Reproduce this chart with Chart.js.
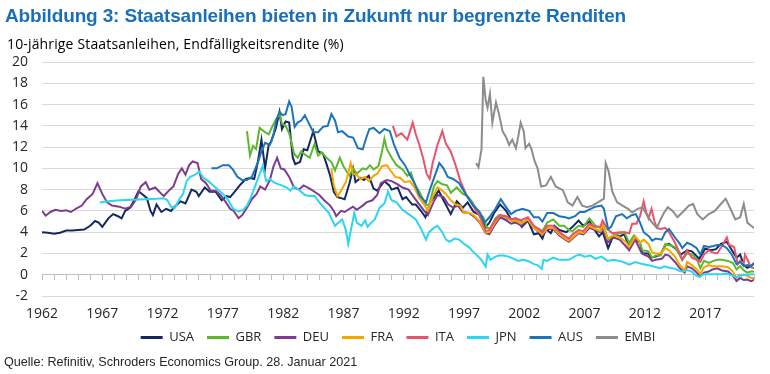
<!DOCTYPE html>
<html lang="de">
<head>
<meta charset="UTF-8">
<title>Staatsanleihen</title>
<script src="https://cdn.jsdelivr.net/npm/chart.js"></script>
<style>
    html, body { margin: 0; padding: 0; background: #fff; }
    .wrap { position: relative; width: 770px; height: 374px; overflow: hidden; }
    #chart { position: absolute; left: 0; top: 0; }
    .title {
        position: absolute; left: 5px; top: 5px; margin: 0;
        font: bold 19px "Liberation Sans", Arial, sans-serif; letter-spacing: -0.15px;
        line-height: 22px; color: #1a70b8; white-space: nowrap;
    }
    .subtitle {
        position: absolute; left: 7px; top: 35px;
        font: 14px "Open Sans", sans-serif; letter-spacing: 0.15px; line-height: 18px;
        color: #000; white-space: nowrap;
    }
    .source {
        position: absolute; left: 4px; top: 354px;
        font: 12.6px "Liberation Sans", Arial, sans-serif;
        line-height: 16px; color: #262626; white-space: nowrap;
    }
</style>
</head>
<body>
<div class="wrap">
    <canvas id="chart" width="770" height="374"></canvas>
    <div class="title">Abbildung 3: Staatsanleihen bieten in Zukunft nur begrenzte Renditen</div>
    <div class="subtitle">10-jährige Staatsanleihen, Endfälligkeitsrendite (%)</div>
    <div class="source">Quelle: Refinitiv, Schroders Economics Group. 28. Januar 2021</div>
</div>

<script>
// yields, [year, %]
const usa = [[1962.0,4.0],[1962.5,3.95],[1963.0,3.85],[1963.5,3.95],[1964.0,4.15],[1964.5,4.15],[1965.0,4.2],[1965.5,4.25],[1966.0,4.6],[1966.4,5.05],[1966.7,4.9],[1967.0,4.5],[1967.5,5.3],[1967.9,5.7],[1968.3,5.5],[1968.6,5.3],[1968.9,6.0],[1969.3,6.3],[1969.6,6.9],[1970.0,7.85],[1970.4,7.5],[1970.7,7.2],[1971.0,6.0],[1971.2,5.6],[1971.5,6.6],[1971.9,5.9],[1972.3,6.2],[1972.7,6.0],[1973.0,6.4],[1973.5,6.9],[1973.9,6.7],[1974.4,8.0],[1974.8,7.8],[1975.0,7.4],[1975.5,8.2],[1975.9,7.8],[1976.4,7.8],[1976.9,7.0],[1977.3,7.4],[1977.6,7.3],[1977.9,7.7],[1978.4,8.4],[1978.9,9.0],[1979.3,9.1],[1979.6,9.0],[1979.9,10.6],[1980.2,12.7],[1980.5,10.0],[1980.8,12.2],[1981.0,12.5],[1981.4,13.8],[1981.7,15.3],[1981.9,13.7],[1982.2,14.4],[1982.5,14.3],[1982.8,11.0],[1983.0,10.4],[1983.4,10.6],[1983.7,11.8],[1984.0,11.7],[1984.5,13.5],[1984.9,11.6],[1985.3,11.4],[1985.6,10.4],[1985.9,9.3],[1986.2,7.8],[1986.5,7.3],[1986.8,7.2],[1987.1,7.1],[1987.5,8.6],[1987.8,10.0],[1988.0,8.7],[1988.4,9.1],[1988.7,8.9],[1989.1,9.3],[1989.5,8.1],[1989.8,7.9],[1990.0,8.2],[1990.4,8.8],[1990.8,8.4],[1991.0,8.0],[1991.5,8.2],[1991.9,7.1],[1992.2,7.3],[1992.7,6.6],[1993.0,6.6],[1993.5,5.9],[1993.8,5.4],[1994.2,6.8],[1994.9,7.9],[1995.3,7.0],[1995.9,5.7],[1996.4,6.9],[1996.9,6.3],[1997.3,6.8],[1997.8,5.9],[1998.3,5.6],[1998.8,4.5],[1999.1,4.9],[1999.5,5.8],[2000.0,6.6],[2000.5,6.0],[2000.9,5.2],[2001.3,5.3],[2001.8,4.5],[2002.3,5.1],[2002.8,3.8],[2003.2,3.9],[2003.5,3.4],[2003.8,4.3],[2004.2,3.9],[2004.5,4.6],[2004.9,4.2],[2005.5,4.0],[2006.0,4.5],[2006.5,5.1],[2006.9,4.6],[2007.4,5.0],[2007.9,4.1],[2008.2,3.6],[2008.5,4.0],[2008.95,2.5],[2009.4,3.7],[2009.9,3.6],[2010.3,3.8],[2010.7,2.6],[2011.1,3.4],[2011.6,3.0],[2011.8,2.0],[2012.3,2.0],[2012.5,1.6],[2012.9,1.7],[2013.3,1.9],[2013.7,2.8],[2014.0,2.9],[2014.5,2.5],[2015.0,1.9],[2015.5,2.3],[2015.9,2.2],[2016.5,1.5],[2017.0,2.45],[2017.5,2.3],[2017.9,2.4],[2018.3,2.9],[2018.8,3.1],[2019.0,2.7],[2019.6,1.6],[2019.9,1.9],[2020.2,0.9],[2020.5,0.65],[2020.8,0.8],[2021.05,1.05]];
const gbr = [[1979.0,13.5],[1979.25,11.2],[1979.5,12.1],[1979.75,11.8],[1980.05,13.8],[1980.5,13.4],[1980.8,13.2],[1981.0,13.7],[1981.4,14.6],[1981.7,15.1],[1981.9,14.2],[1982.2,14.0],[1982.5,13.3],[1982.7,12.4],[1982.9,11.4],[1983.2,11.0],[1983.5,11.6],[1983.8,11.3],[1984.2,11.0],[1984.6,12.3],[1984.9,11.2],[1985.2,11.5],[1985.6,11.0],[1986.0,10.6],[1986.3,9.8],[1986.7,11.0],[1987.0,10.2],[1987.5,9.3],[1987.8,10.0],[1988.1,9.5],[1988.6,10.0],[1988.9,9.9],[1989.2,10.3],[1989.5,9.9],[1989.9,10.2],[1990.2,11.6],[1990.4,12.8],[1990.6,11.8],[1991.0,11.0],[1991.4,10.3],[1991.9,9.9],[1992.3,9.3],[1992.6,9.6],[1992.9,8.5],[1993.3,7.8],[1993.8,6.6],[1994.1,6.5],[1994.5,8.3],[1994.8,8.8],[1995.2,8.5],[1995.6,8.4],[1995.9,7.7],[1996.4,8.2],[1996.9,7.6],[1997.3,7.4],[1997.7,6.8],[1998.1,6.0],[1998.6,5.4],[1998.9,4.4],[1999.2,4.4],[1999.6,5.3],[1999.9,5.6],[2000.3,5.3],[2000.8,5.2],[2001.2,4.9],[2001.6,5.2],[2001.9,4.9],[2002.3,5.2],[2002.7,4.5],[2003.2,4.3],[2003.5,4.1],[2003.9,4.9],[2004.4,5.2],[2004.9,4.6],[2005.3,4.6],[2005.7,4.2],[2006.0,4.1],[2006.5,4.6],[2006.9,4.5],[2007.4,5.3],[2007.9,4.6],[2008.3,4.4],[2008.5,4.9],[2008.95,3.3],[2009.4,3.7],[2009.9,3.9],[2010.3,4.0],[2010.7,3.0],[2011.1,3.7],[2011.5,3.2],[2011.8,2.3],[2012.3,2.2],[2012.6,1.6],[2012.9,1.8],[2013.3,1.8],[2013.7,2.9],[2014.0,2.8],[2014.5,2.6],[2014.9,1.8],[2015.1,1.4],[2015.5,2.0],[2015.9,1.9],[2016.3,1.5],[2016.6,0.6],[2016.9,1.3],[2017.3,1.1],[2017.7,1.3],[2018.0,1.4],[2018.4,1.4],[2018.9,1.3],[2019.3,1.1],[2019.6,0.5],[2019.9,0.8],[2020.2,0.4],[2020.5,0.2],[2020.8,0.3],[2021.05,0.3]];
const deu = [[1962.0,6.0],[1962.3,5.55],[1962.7,5.9],[1963.1,6.1],[1963.6,6.0],[1964.0,6.05],[1964.4,5.9],[1964.8,6.2],[1965.3,6.5],[1965.7,7.1],[1966.2,7.6],[1966.6,8.6],[1967.0,7.6],[1967.4,6.8],[1967.8,6.5],[1968.4,6.4],[1968.9,6.2],[1969.4,6.4],[1969.8,7.1],[1970.2,8.3],[1970.6,8.7],[1970.9,8.0],[1971.4,8.2],[1971.9,7.6],[1972.1,7.4],[1972.6,8.0],[1972.9,8.3],[1973.3,9.5],[1973.6,10.0],[1973.9,9.4],[1974.2,10.3],[1974.5,10.65],[1974.9,10.5],[1975.2,9.0],[1975.6,8.6],[1976.0,7.9],[1976.4,7.9],[1976.8,7.5],[1977.2,6.9],[1977.6,6.2],[1977.9,6.0],[1978.3,5.3],[1978.6,5.6],[1979.0,6.3],[1979.4,7.1],[1979.8,7.6],[1980.1,8.3],[1980.5,8.0],[1980.9,8.9],[1981.2,10.2],[1981.5,11.0],[1981.8,10.0],[1982.1,9.9],[1982.5,9.2],[1982.9,8.2],[1983.3,8.0],[1983.7,8.4],[1984.2,8.1],[1984.6,7.8],[1985.0,7.5],[1985.4,7.0],[1985.9,6.5],[1986.2,6.0],[1986.4,5.5],[1986.8,6.0],[1987.1,5.9],[1987.5,6.2],[1987.8,6.4],[1988.1,6.1],[1988.6,6.5],[1988.9,6.8],[1989.4,7.0],[1989.8,7.5],[1990.1,8.6],[1990.6,8.9],[1991.0,8.8],[1991.5,8.5],[1991.9,8.2],[1992.4,8.0],[1992.9,7.2],[1993.3,6.6],[1993.7,6.0],[1994.0,5.6],[1994.5,6.9],[1994.8,7.5],[1995.3,7.3],[1995.7,6.6],[1996.1,6.3],[1996.5,6.5],[1996.9,5.9],[1997.4,5.8],[1997.9,5.4],[1998.3,4.9],[1998.8,3.9],[1999.1,3.8],[1999.5,4.6],[2000.0,5.4],[2000.5,5.1],[2000.9,4.8],[2001.3,4.9],[2001.8,4.6],[2002.3,5.2],[2002.8,4.4],[2003.2,4.0],[2003.5,3.8],[2003.9,4.3],[2004.4,4.3],[2004.9,3.7],[2005.4,3.3],[2005.7,3.1],[2006.0,3.4],[2006.5,3.9],[2006.9,3.8],[2007.4,4.4],[2007.9,4.2],[2008.3,4.0],[2008.5,4.5],[2008.9,3.0],[2009.4,3.5],[2009.9,3.3],[2010.4,2.7],[2010.7,2.3],[2011.2,3.3],[2011.7,2.1],[2011.9,1.9],[2012.3,1.7],[2012.6,1.3],[2012.9,1.4],[2013.4,1.5],[2013.7,1.9],[2014.0,1.8],[2014.5,1.2],[2014.9,0.6],[2015.3,0.2],[2015.5,0.8],[2015.9,0.6],[2016.3,0.2],[2016.6,-0.15],[2016.9,0.2],[2017.3,0.3],[2017.6,0.5],[2018.0,0.6],[2018.4,0.4],[2018.9,0.3],[2019.3,-0.1],[2019.6,-0.6],[2019.9,-0.3],[2020.2,-0.5],[2020.5,-0.45],[2020.8,-0.6],[2021.05,-0.5]];
const fra = [[1986.0,10.0],[1986.2,8.4],[1986.5,7.4],[1986.8,7.9],[1987.2,8.7],[1987.6,10.5],[1987.8,9.5],[1988.1,9.4],[1988.4,9.0],[1988.8,9.2],[1989.1,8.8],[1989.5,9.3],[1989.8,9.5],[1990.2,10.2],[1990.6,10.3],[1990.9,9.8],[1991.3,9.2],[1991.7,9.1],[1992.1,8.7],[1992.5,8.8],[1992.9,8.2],[1993.3,7.2],[1993.7,6.6],[1994.0,6.0],[1994.4,7.3],[1994.8,8.2],[1995.1,8.0],[1995.5,7.6],[1995.9,7.0],[1996.3,6.6],[1996.7,6.5],[1997.0,5.8],[1997.5,5.8],[1997.9,5.5],[1998.3,5.0],[1998.8,3.95],[1999.1,4.0],[1999.5,4.8],[2000.0,5.6],[2000.5,5.4],[2000.9,5.1],[2001.3,5.1],[2001.7,4.8],[2002.3,5.2],[2002.8,4.4],[2003.2,4.1],[2003.5,3.8],[2003.9,4.4],[2004.4,4.4],[2004.9,3.8],[2005.4,3.4],[2005.7,3.2],[2006.0,3.5],[2006.5,4.0],[2006.9,3.9],[2007.4,4.6],[2007.9,4.3],[2008.3,4.1],[2008.5,4.7],[2008.9,3.4],[2009.4,3.7],[2009.9,3.5],[2010.4,3.1],[2010.7,2.6],[2011.2,3.6],[2011.6,3.0],[2011.9,3.3],[2012.3,2.9],[2012.6,2.1],[2012.9,2.0],[2013.3,2.0],[2013.7,2.5],[2014.0,2.3],[2014.5,1.7],[2014.9,0.9],[2015.3,0.4],[2015.5,1.2],[2015.9,0.9],[2016.3,0.5],[2016.6,0.1],[2016.9,0.7],[2017.3,0.9],[2017.6,0.8],[2018.0,0.8],[2018.4,0.8],[2018.9,0.7],[2019.3,0.3],[2019.6,-0.3],[2019.9,0.0],[2020.2,0.0],[2020.5,-0.1],[2020.8,-0.3],[2021.05,-0.3]];
const ita = [[1991.1,14.0],[1991.4,13.0],[1991.8,13.3],[1992.3,12.7],[1992.75,14.3],[1993.0,13.2],[1993.3,12.2],[1993.6,11.0],[1993.9,9.5],[1994.15,9.0],[1994.4,10.5],[1994.8,12.2],[1995.2,13.5],[1995.5,12.3],[1995.9,11.6],[1996.3,10.3],[1996.7,8.8],[1997.2,7.5],[1997.6,6.8],[1998.0,6.0],[1998.3,5.5],[1998.8,4.1],[1999.1,4.2],[1999.5,5.0],[2000.0,5.6],[2000.5,5.5],[2000.9,5.2],[2001.3,5.3],[2001.7,5.1],[2002.3,5.4],[2002.8,4.6],[2003.2,4.3],[2003.5,4.0],[2003.9,4.6],[2004.4,4.6],[2004.9,4.0],[2005.4,3.6],[2005.7,3.4],[2006.0,3.8],[2006.5,4.2],[2006.9,4.1],[2007.4,4.8],[2007.9,4.5],[2008.3,4.5],[2008.5,5.1],[2008.9,4.3],[2009.3,3.9],[2009.9,4.0],[2010.3,4.0],[2010.7,3.9],[2010.95,4.8],[2011.3,4.8],[2011.6,5.5],[2011.9,6.9],[2012.1,5.9],[2012.3,5.3],[2012.55,6.2],[2012.8,5.0],[2013.0,4.4],[2013.3,4.3],[2013.7,4.4],[2014.0,4.0],[2014.5,3.0],[2014.9,2.0],[2015.1,1.4],[2015.5,2.3],[2015.9,1.6],[2016.3,1.4],[2016.6,1.2],[2016.9,1.9],[2017.3,2.3],[2017.6,2.1],[2018.0,2.0],[2018.4,2.7],[2018.8,3.5],[2019.0,2.8],[2019.4,2.6],[2019.7,1.0],[2019.9,1.3],[2020.2,1.1],[2020.3,1.9],[2020.6,1.2],[2020.8,0.7],[2021.05,0.6]];
const jpn = [[1966.8,6.8],[1967.5,6.9],[1968.5,7.0],[1969.5,7.05],[1970.5,7.1],[1971.5,7.15],[1972.1,7.2],[1972.4,7.0],[1972.7,6.4],[1973.0,6.25],[1973.4,7.1],[1973.7,7.6],[1974.0,8.8],[1974.3,9.2],[1974.7,9.4],[1975.05,9.7],[1975.4,9.1],[1975.8,8.8],[1976.2,8.4],[1976.6,8.0],[1977.0,7.6],[1977.4,7.1],[1977.85,6.2],[1978.3,5.95],[1978.7,6.1],[1979.0,6.5],[1979.3,7.2],[1979.6,8.1],[1979.9,9.0],[1980.3,10.2],[1980.6,8.8],[1980.9,9.0],[1981.2,8.7],[1981.6,8.5],[1981.9,8.4],[1982.3,8.2],[1982.6,7.9],[1982.9,8.3],[1983.4,7.9],[1983.8,7.5],[1984.2,7.4],[1984.6,7.4],[1985.0,6.8],[1985.4,6.3],[1985.8,5.8],[1986.0,5.3],[1986.3,4.6],[1986.6,4.9],[1986.9,5.2],[1987.2,4.2],[1987.4,2.9],[1987.6,4.1],[1987.9,5.8],[1988.1,4.9],[1988.5,4.6],[1988.8,5.1],[1989.0,4.5],[1989.3,4.9],[1989.6,5.2],[1990.0,6.3],[1990.4,6.7],[1990.7,7.8],[1991.0,7.0],[1991.4,6.8],[1991.9,6.1],[1992.4,5.7],[1993.0,5.2],[1993.4,4.4],[1993.85,3.3],[1994.1,4.0],[1994.5,4.4],[1994.8,4.6],[1995.2,4.0],[1995.5,3.3],[1995.8,3.1],[1996.2,3.4],[1996.6,3.3],[1997.0,2.9],[1997.4,2.6],[1997.8,2.1],[1998.2,1.7],[1998.5,1.3],[1998.8,0.75],[1998.95,1.9],[1999.2,1.4],[1999.6,1.7],[1999.9,1.8],[2000.3,1.8],[2000.7,1.7],[2001.1,1.5],[2001.5,1.3],[2001.9,1.4],[2002.3,1.3],[2002.8,1.0],[2003.1,0.9],[2003.45,0.55],[2003.6,1.4],[2003.9,1.3],[2004.4,1.6],[2004.9,1.4],[2005.3,1.4],[2005.7,1.4],[2006.3,1.8],[2006.6,1.9],[2007.0,1.7],[2007.5,1.8],[2007.9,1.5],[2008.4,1.7],[2008.9,1.3],[2009.4,1.4],[2009.9,1.3],[2010.4,1.1],[2010.7,0.95],[2011.2,1.2],[2011.8,1.0],[2012.3,0.9],[2012.8,0.75],[2013.3,0.6],[2013.6,0.8],[2014.0,0.65],[2014.5,0.55],[2014.9,0.35],[2015.1,0.3],[2015.5,0.45],[2015.9,0.3],[2016.2,-0.05],[2016.5,-0.2],[2016.9,0.05],[2017.4,0.05],[2017.9,0.05],[2018.4,0.05],[2018.8,0.12],[2019.2,-0.05],[2019.6,-0.25],[2019.9,-0.05],[2020.3,0.0],[2020.6,0.03],[2021.05,0.05]];
const aus = [[1976.05,10.0],[1976.5,10.0],[1977.0,10.3],[1977.5,10.3],[1977.85,9.85],[1978.2,9.2],[1978.6,8.9],[1979.0,8.9],[1979.4,9.2],[1979.7,10.0],[1979.95,10.7],[1980.2,11.6],[1980.5,12.4],[1980.9,12.2],[1981.2,13.2],[1981.45,14.6],[1981.7,15.3],[1981.95,15.0],[1982.2,15.1],[1982.5,16.3],[1982.7,15.8],[1982.95,13.9],[1983.2,14.3],[1983.5,14.5],[1983.8,15.0],[1984.1,14.3],[1984.5,13.4],[1984.9,13.4],[1985.3,13.9],[1985.7,14.0],[1986.0,15.1],[1986.3,14.5],[1986.55,13.4],[1986.9,13.5],[1987.4,13.0],[1987.8,12.9],[1988.2,11.9],[1988.6,11.8],[1988.9,12.9],[1989.15,13.7],[1989.5,13.8],[1990.0,13.3],[1990.4,13.7],[1990.85,13.5],[1991.2,12.2],[1991.65,11.0],[1992.1,10.3],[1992.5,9.4],[1992.9,8.6],[1993.3,7.45],[1993.85,6.8],[1994.2,8.1],[1994.7,9.7],[1994.95,10.5],[1995.3,10.0],[1995.65,9.2],[1996.1,9.0],[1996.6,8.6],[1997.2,7.45],[1997.7,6.6],[1998.3,5.9],[1998.7,4.9],[1999.1,5.4],[1999.6,6.2],[2000.05,7.1],[2000.4,6.5],[2000.9,5.7],[2001.3,6.0],[2001.85,6.2],[2002.4,6.0],[2002.8,5.4],[2003.2,5.4],[2003.5,5.0],[2003.9,5.8],[2004.4,5.8],[2004.9,5.5],[2005.4,5.4],[2005.7,5.3],[2006.2,5.5],[2006.6,5.9],[2007.0,5.9],[2007.5,6.2],[2007.9,6.4],[2008.4,6.5],[2008.6,6.2],[2008.95,4.3],[2009.2,4.5],[2009.6,5.5],[2010.1,5.7],[2010.5,5.3],[2010.9,5.6],[2011.25,5.7],[2011.6,4.9],[2011.9,4.0],[2012.35,3.6],[2012.6,3.2],[2012.9,3.4],[2013.4,3.3],[2013.7,4.0],[2014.0,4.3],[2014.5,3.5],[2014.9,2.9],[2015.1,2.5],[2015.5,3.0],[2015.9,2.8],[2016.3,2.5],[2016.6,1.9],[2016.9,2.7],[2017.3,2.6],[2017.7,2.7],[2018.0,2.8],[2018.4,2.8],[2018.8,2.5],[2019.2,1.9],[2019.6,1.0],[2019.9,1.2],[2020.2,0.8],[2020.5,0.9],[2020.8,0.8],[2021.05,1.1]];
const embi = [[1998.0,10.5],[1998.2,10.1],[1998.45,11.8],[1998.6,18.6],[1998.8,16.4],[1998.95,15.7],[1999.15,17.0],[1999.35,14.3],[1999.65,16.2],[1999.9,15.1],[2000.2,13.5],[2000.5,12.9],[2000.75,12.2],[2001.0,12.7],[2001.3,11.9],[2001.5,13.0],[2001.7,14.3],[2001.95,13.5],[2002.1,11.9],[2002.4,12.3],[2002.6,11.8],[2002.85,10.7],[2003.1,10.0],[2003.4,8.3],[2003.8,8.4],[2004.2,9.2],[2004.6,8.3],[2005.2,7.95],[2005.6,6.8],[2006.0,6.5],[2006.4,7.3],[2006.8,6.5],[2007.2,6.35],[2007.65,6.5],[2008.1,6.8],[2008.6,7.15],[2008.75,10.5],[2009.0,9.7],[2009.3,7.8],[2009.7,6.8],[2010.15,6.5],[2010.6,6.2],[2010.95,5.85],[2011.4,6.2],[2011.8,6.35],[2012.2,5.55],[2012.6,4.9],[2013.0,4.4],[2013.3,5.2],[2013.6,5.85],[2013.9,6.35],[2014.3,6.0],[2014.7,5.4],[2015.1,5.85],[2015.65,6.5],[2016.0,6.65],[2016.35,5.7],[2016.8,5.2],[2017.3,5.7],[2017.8,6.0],[2018.3,6.65],[2018.7,7.15],[2019.1,6.2],[2019.5,5.2],[2019.9,5.4],[2020.2,6.65],[2020.5,4.9],[2020.8,4.6],[2021.05,4.4]];

const seriesNames = ['USA', 'GBR', 'DEU', 'FRA', 'ITA', 'JPN', 'AUS', 'EMBI'];
const seriesData = [usa, gbr, deu, fra, ita, jpn, aus, embi];
const seriesColors = ['#13295f', '#5cb82e', '#7d3c8e', '#f7a600', '#e8546c', '#2cd6f0', '#1c74bb', '#8c8c8c'];
const yearLabels = [1962, 1967, 1972, 1977, 1982, 1987, 1992, 1997, 2002, 2007, 2012, 2017];

const datasets = seriesNames.map((name, i) => ({
    label: name,
    data: seriesData[i].map(p => ({ x: p[0], y: p[1] })),
    borderColor: seriesColors[i],
    backgroundColor: seriesColors[i],
    borderWidth: 2,
    pointRadius: 0,
    tension: 0,
    fill: false,
    order: seriesNames.length - 1 - i   // later series on top, like the original
}));

const font = { family: '"Open Sans", sans-serif', size: 13 };

new Chart(document.getElementById('chart'), {
    type: 'line',
    data: { datasets: datasets },
    options: {
        responsive: false,
        animation: false,
        events: [],
        layout: { padding: { top: 62, left: 0, right: 16, bottom: 20 } },
        scales: {
            x: {
                type: 'linear',
                min: 1962,
                max: 2021.05,
                position: { y: 0 },
                ticks: { display: false, stepSize: 1 },
                grid: { drawOnChartArea: false, tickLength: 5, color: '#bfbfbf' },
                border: { color: '#bfbfbf' }
            },
            x2: {
                type: 'linear',
                position: 'bottom',
                min: 1962,
                max: 2021.05,
                afterBuildTicks: s => { s.ticks = yearLabels.map(v => ({ value: v })); },
                afterFit: s => { s.height = 22; s.paddingLeft = 0; s.paddingRight = 0; },
                ticks: {
                    font: { family: font.family, size: 14 },
                    color: '#262626',
                    maxRotation: 0,
                    autoSkip: false,
                    padding: 10,
                    callback: v => String(v)
                },
                grid: { display: false, drawTicks: false },
                border: { display: false }
            },
            y: {
                min: -2,
                max: 20,
                ticks: { stepSize: 2, font: { family: font.family, size: 14 }, color: '#262626', padding: 14 },
                afterFit: s => { s.width = 42; s.paddingTop = 0; s.paddingBottom = 0; },
                grid: { color: '#d9d9d9', drawTicks: false },
                border: { display: false }
            }
        },
        plugins: {
            legend: {
                position: 'bottom',
                fullSize: false,
                labels: {
                    font: { family: font.family, size: 13 },
                    color: '#262626',
                    usePointStyle: true,
                    pointStyle: 'line',
                    pointStyleWidth: 22,
                    padding: 13,
                    sort: (a, b) => a.datasetIndex - b.datasetIndex,
                    generateLabels: chart => Chart.defaults.plugins.legend.labels.generateLabels(chart)
                        .map(l => Object.assign(l, { lineWidth: 3 }))
                }
            },
            tooltip: { enabled: false }
        }
    }
});
</script>
</body>
</html>
